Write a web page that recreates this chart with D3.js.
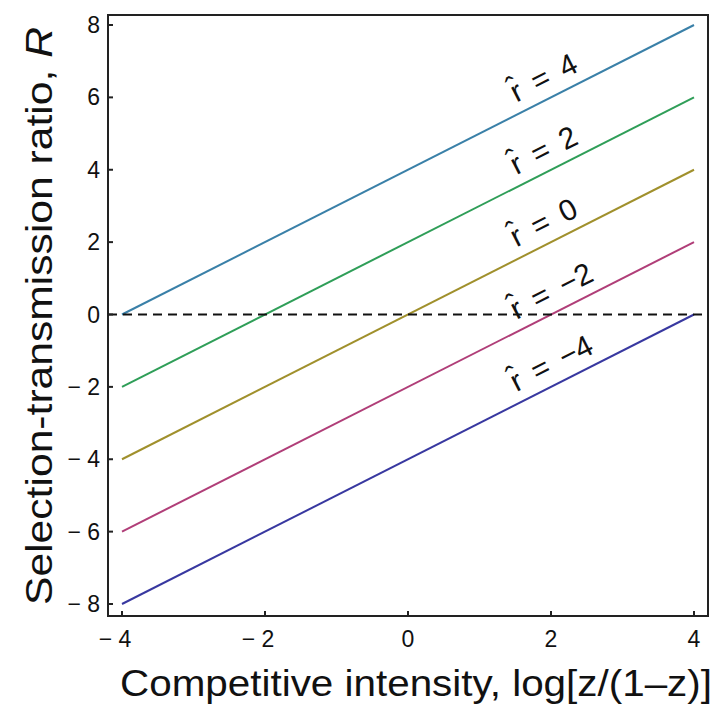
<!DOCTYPE html>
<html><head><meta charset="utf-8">
<script src="https://cdn.jsdelivr.net/npm/d3@7"></script>
<style>body{margin:0;background:#fff}svg{display:block}</style>
</head><body>
<script>
const rValues = [4, 2, 0, -2, -4];
const rColors = ["#3a80a8", "#2f9e58", "#a0902c", "#b03e78", "#3838a0"];
const rLabels = ["r\u0302 = 4", "r\u0302 = 2", "r\u0302 = 0", "r\u0302 = \u22122", "r\u0302 = \u22124"];
const xDomain = [-4, 4];
const xTicks = [-4, -2, 0, 2, 4];
const yTicks = [-8, -6, -4, -2, 0, 2, 4, 6, 8];
const labelX = 1.49;

const W = 724, H = 717;
const svg = d3.select("body").append("svg").attr("width", W).attr("height", H);
const font = "'Liberation Sans', Arial, sans-serif";

const x = d3.scaleLinear().domain([-4, 4]).range([122, 694]);
const y = d3.scaleLinear().domain([-8, 8]).range([604, 25]);

// frame
svg.append("rect").attr("x", 108).attr("y", 15).attr("width", 600).attr("height", 601)
  .attr("fill", "none").attr("stroke", "#222").attr("stroke-width", 2);

// lines
const line = d3.line().x(d => x(d[0])).y(d => y(d[1]));
rValues.forEach((r, i) => {
  svg.append("path").datum(xDomain.map(v => [v, v + r]))
    .attr("d", line).attr("fill", "none").attr("stroke", rColors[i]).attr("stroke-width", 2);
});

// dashed zero
svg.append("line").attr("x1", 108).attr("x2", 708).attr("y1", y(0)).attr("y2", y(0))
  .attr("stroke", "#111").attr("stroke-width", 2).attr("stroke-dasharray", "9,6");

// ticks
const fmt = d => d < 0 ? "\u2212 " + Math.abs(d) : String(d);
xTicks.forEach(t => {
  svg.append("line").attr("x1", x(t)).attr("x2", x(t)).attr("y1", 616).attr("y2", 611)
    .attr("stroke", "#222").attr("stroke-width", 2);
  svg.append("text").attr("x", x(t) + (t < 0 ? -7 : 0)).attr("y", 647).attr("text-anchor", "middle")
    .attr("font-family", font).attr("font-size", 23).attr("fill", "#111").text(fmt(t));
});
yTicks.forEach(t => {
  svg.append("line").attr("x1", 108).attr("x2", 113).attr("y1", y(t)).attr("y2", y(t))
    .attr("stroke", "#222").attr("stroke-width", 2);
  svg.append("text").attr("x", 100).attr("y", y(t) + 8).attr("text-anchor", "end")
    .attr("font-family", font).attr("font-size", 23).attr("fill", "#111").text(fmt(t));
});

// axis titles
svg.append("text").attr("x", 416).attr("y", 696).attr("text-anchor", "middle")
  .attr("font-family", font).attr("font-size", 36).attr("fill", "#111")
  .attr("textLength", 592).attr("lengthAdjust", "spacingAndGlyphs")
  .text("Competitive intensity, log[z/(1\u2013z)]");
const yt = svg.append("text").attr("transform", "translate(52,316) rotate(-90)")
  .attr("text-anchor", "middle").attr("font-family", font).attr("font-size", 36).attr("fill", "#111")
  .attr("textLength", 578).attr("lengthAdjust", "spacingAndGlyphs");
yt.append("tspan").text("Selection-transmission ratio, ");
yt.append("tspan").attr("font-style", "italic").text("R");

// labels
const ang = Math.atan2(y(0) - y(1), x(1) - x(0)) * 180 / Math.PI;
rValues.forEach((r, i) => {
  const px = x(labelX) + 2, py = y(labelX + r) - 13;
  svg.append("text").attr("transform", `translate(${px},${py}) rotate(${-ang})`)
    .attr("font-family", font).attr("font-size", 30).attr("fill", "#111")
    .attr("word-spacing", 5)
    .text(rLabels[i]);
});
</script>
</body></html>
